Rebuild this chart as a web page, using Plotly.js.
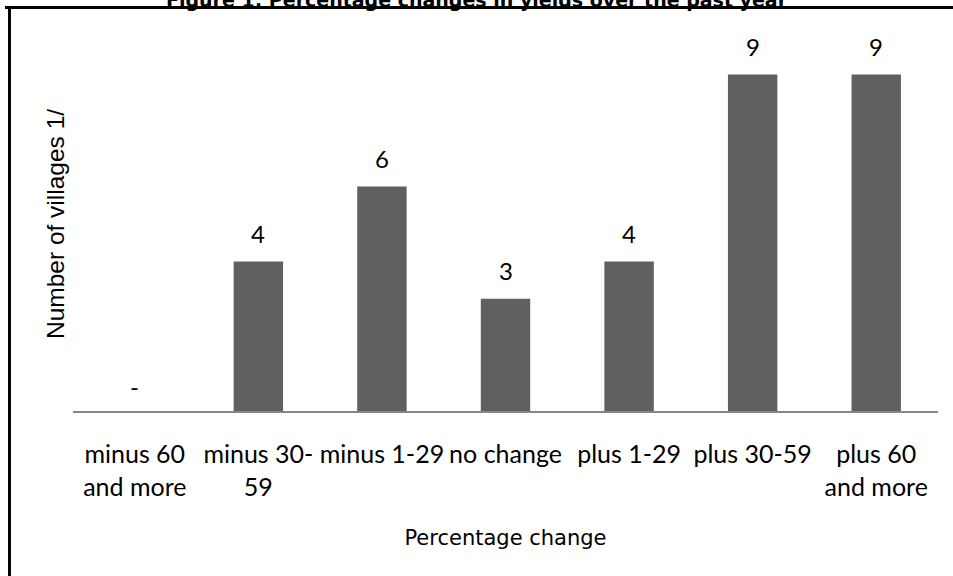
<!DOCTYPE html>
<html>
<head>
<meta charset="utf-8">
<script src="https://cdn.plot.ly/plotly-3.0.1.min.js"></script>
<style>
  html, body { margin: 0; padding: 0; background: #ffffff; }
  #chart { width: 953px; height: 576px; }
</style>
</head>
<body>
<div id="chart"></div>
<script>
// Villages grouped by the percentage change in yields over the past year
const categories = [
  'minus 60<br>and more',
  'minus 30-<br>59',
  'minus 1-29',
  'no change',
  'plus 1-29',
  'plus 30-59',
  'plus 60<br>and more'
];
const villages = [0, 4, 6, 3, 4, 9, 9];
const valueLabels = ['-', '4', '6', '3', '4', '9', '9'];

const barTrace = {
  type: 'bar',
  x: categories,
  y: villages,
  marker: { color: '#606060', line: { width: 0 } },
  hoverinfo: 'x+y'
};

// value labels floating above each bar
const valueAnnotations = categories.map((c, i) => ({
  x: c,
  y: villages[i],
  xref: 'x',
  yref: 'y',
  text: valueLabels[i],
  showarrow: false,
  yanchor: 'middle',
  yshift: valueLabels[i] === '-' ? 25 : 28,
  font: { family: 'Lato, sans-serif', size: 24, color: '#000000' }
}));

const layout = {
  width: 953,
  height: 576,
  margin: { l: 73, r: 15, t: 37, b: 165 },
  paper_bgcolor: '#ffffff',
  plot_bgcolor: '#ffffff',
  showlegend: false,
  bargap: 0.6,
  title: {
    text: 'Figure 1: Percentage changes in yields over the past year',
    font: { family: 'DejaVu Sans, sans-serif', size: 19, weight: 'bold', color: '#000000' },
    xref: 'container',
    x: 0.5,
    xanchor: 'center',
    yref: 'container',
    y: 1,
    yanchor: 'middle'
  },
  xaxis: {
    type: 'category',
    showline: true,
    linecolor: '#868686',
    linewidth: 2,
    showgrid: false,
    zeroline: false,
    ticks: '',
    ticklabelstandoff: 20,
    tickfont: { family: 'Lato, sans-serif', size: 25, color: '#000000' },
    automargin: false,
    title: {
      text: 'Percentage change',
      font: { family: 'DejaVu Sans, sans-serif', size: 21, color: '#000000' },
      standoff: 31
    }
  },
  yaxis: {
    range: [0, 10],
    showline: false,
    showgrid: false,
    zeroline: false,
    showticklabels: false,
    ticks: '',
    automargin: false,
    title: {
      text: 'Number of villages 1/',
      font: { family: 'Liberation Sans, Arial, sans-serif', size: 24.5, color: '#000000' },
      standoff: 0
    }
  },
  annotations: valueAnnotations,
  // frame lines along the top and left edge of the figure
  shapes: [
    { type: 'line', xref: 'paper', yref: 'paper', x0: -0.0786, x1: 1.05, y0: 1.0789, y1: 1.0789,
      line: { color: '#000000', width: 3 } },
    { type: 'line', xref: 'paper', yref: 'paper', x0: -0.0734, x1: -0.0734, y0: 1.0829, y1: -0.55,
      line: { color: '#000000', width: 3 } }
  ]
};

Plotly.newPlot('chart', [barTrace], layout, { displayModeBar: false, staticPlot: true });
</script>
</body>
</html>
